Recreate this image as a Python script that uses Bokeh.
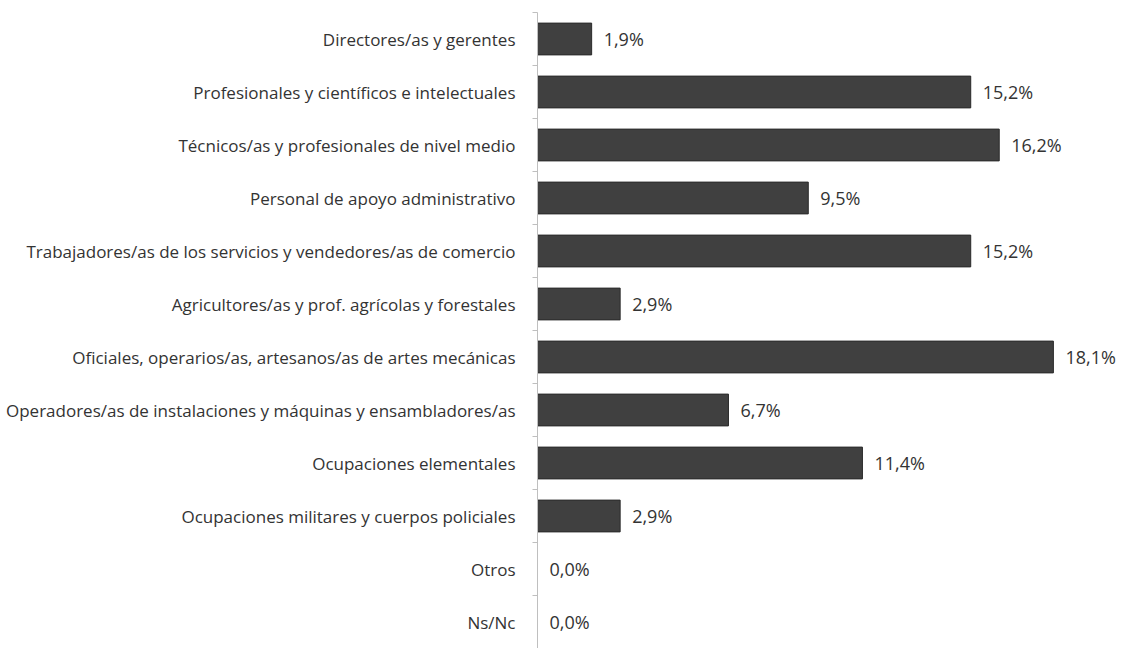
from bokeh.plotting import figure
from bokeh.models import ColumnDataSource, FixedTicker, Range1d
from bokeh.embed import file_html
from bokeh.resources import INLINE
from bokeh.core.properties import value

categories = [
    "Directores/as y gerentes",
    "Profesionales y científicos e intelectuales",
    "Técnicos/as y profesionales de nivel medio",
    "Personal de apoyo administrativo",
    "Trabajadores/as de los servicios y vendedores/as de comercio",
    "Agricultores/as y prof. agrícolas y forestales",
    "Oficiales, operarios/as, artesanos/as de artes mecánicas",
    "Operadores/as de instalaciones y máquinas y ensambladores/as",
    "Ocupaciones elementales",
    "Ocupaciones militares y cuerpos policiales",
    "Otros",
    "Ns/Nc",
]
values = [1.9, 15.2, 16.2, 9.5, 15.2, 2.9, 18.1, 6.7, 11.4, 2.9, 0.0, 0.0]
labels = ["1,9%", "15,2%", "16,2%", "9,5%", "15,2%", "2,9%", "18,1%", "6,7%", "11,4%", "2,9%", "0,0%", "0,0%"]

n = len(categories)
ypos = [n - i - 0.5 for i in range(n)]

src = ColumnDataSource(dict(y=ypos, v=values, lab=labels, cat=categories))

p = figure(width=1123, height=648, output_backend="svg", toolbar_location=None,
           x_range=Range1d(0, 20.56), y_range=Range1d(0, n),
           min_border_left=537, min_border_right=0, min_border_top=12, min_border_bottom=0)

p.hbar(y="y", left=0, right="v", height=0.6, source=src,
       fill_color="#404040", line_color="#2a2a2a", line_width=1)

p.text(x="v", y="y", text="lab", source=src, x_offset=12,
       text_align="left", text_baseline="middle",
       text_font=value("Open Sans"), text_font_size="18px", text_color="#333333")

p.xaxis.visible = False
p.xgrid.visible = False
p.ygrid.visible = False
p.outline_line_color = None

ax = p.yaxis[0]
ax.ticker = FixedTicker(ticks=ypos, minor_ticks=list(range(n + 1)))
ax.major_label_overrides = {y: c for y, c in zip(ypos, categories)}
ax.major_tick_line_color = None
ax.major_tick_in = 0
ax.major_tick_out = 0
ax.minor_tick_in = 0
ax.minor_tick_out = 5
ax.minor_tick_line_color = "#bfbfbf"
ax.axis_line_color = "#bfbfbf"
ax.major_label_text_font = "Open Sans"
ax.major_label_text_font_size = "17px"
ax.major_label_text_color = "#333333"
ax.major_label_standoff = 17

open("out.html", "w").write(file_html(p, INLINE))
